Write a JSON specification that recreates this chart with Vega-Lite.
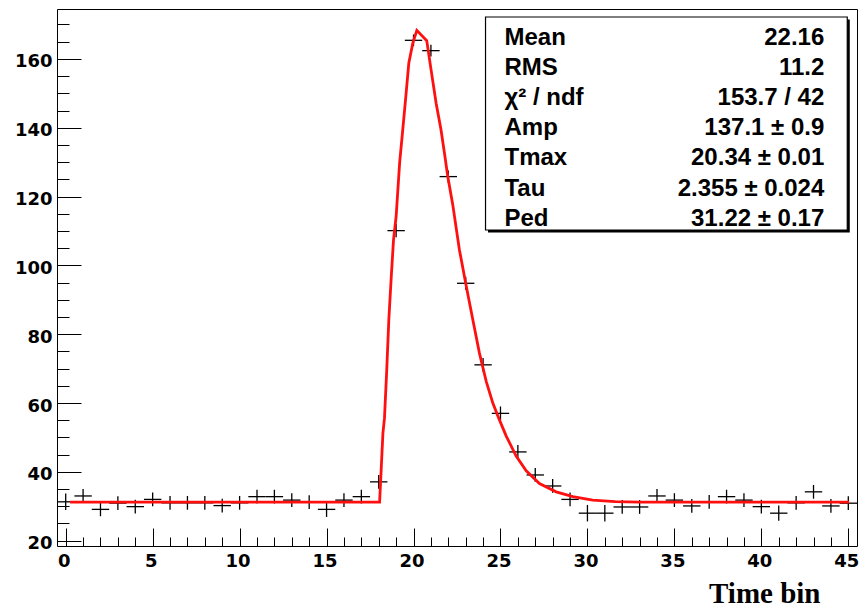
{
  "$schema": "https://vega.github.io/schema/vega-lite/v6.json",
  "width": 800,
  "height": 537,
  "autosize": {"type": "none"},
  "padding": {"left": 57, "top": 9, "right": 3, "bottom": 61},
  "background": "white",
  "config": {
    "view": {"stroke": "black", "strokeWidth": 1, "fill": "white"}
  },
  "layer": [
    {
      "layer": [
        {
          "data": {"name": "hist", "values": [
            {"t": 0, "v": 31.3, "e": 2.4},
            {"t": 1, "v": 33.0, "e": 2.0},
            {"t": 2, "v": 29.1, "e": 2.0},
            {"t": 3, "v": 30.9, "e": 2.0},
            {"t": 4, "v": 29.9, "e": 2.0},
            {"t": 5, "v": 32.0, "e": 2.0},
            {"t": 6, "v": 31.0, "e": 2.0},
            {"t": 7, "v": 31.0, "e": 2.0},
            {"t": 8, "v": 31.0, "e": 2.0},
            {"t": 9, "v": 30.2, "e": 2.0},
            {"t": 10, "v": 31.0, "e": 2.0},
            {"t": 11, "v": 32.8, "e": 2.0},
            {"t": 12, "v": 32.8, "e": 2.0},
            {"t": 13, "v": 31.8, "e": 2.0},
            {"t": 14, "v": 31.2, "e": 2.0},
            {"t": 15, "v": 29.1, "e": 2.2},
            {"t": 16, "v": 31.8, "e": 2.0},
            {"t": 17, "v": 32.8, "e": 2.0},
            {"t": 18, "v": 37.1, "e": 2.0},
            {"t": 19, "v": 110.1, "e": 1.9},
            {"t": 20, "v": 165.4, "e": 1.7},
            {"t": 21, "v": 162.4, "e": 1.7},
            {"t": 22, "v": 125.8, "e": 1.8},
            {"t": 23, "v": 94.8, "e": 1.9},
            {"t": 24, "v": 71.1, "e": 2.0},
            {"t": 25, "v": 57.0, "e": 2.0},
            {"t": 26, "v": 45.8, "e": 2.0},
            {"t": 27, "v": 39.1, "e": 2.0},
            {"t": 28, "v": 35.9, "e": 2.0},
            {"t": 29, "v": 32.0, "e": 2.0},
            {"t": 30, "v": 28.0, "e": 2.4},
            {"t": 31, "v": 28.0, "e": 2.4},
            {"t": 32, "v": 29.8, "e": 2.0},
            {"t": 33, "v": 29.8, "e": 2.0},
            {"t": 34, "v": 33.0, "e": 2.0},
            {"t": 35, "v": 31.8, "e": 2.0},
            {"t": 36, "v": 30.1, "e": 2.0},
            {"t": 37, "v": 31.3, "e": 2.0},
            {"t": 38, "v": 32.8, "e": 2.0},
            {"t": 39, "v": 31.8, "e": 2.0},
            {"t": 40, "v": 29.9, "e": 2.0},
            {"t": 41, "v": 28.0, "e": 2.2},
            {"t": 42, "v": 31.0, "e": 2.0},
            {"t": 43, "v": 34.2, "e": 2.0},
            {"t": 44, "v": 30.1, "e": 2.0},
            {"t": 45, "v": 30.9, "e": 2.0}
          ]},
          "layer": [
            {
              "mark": {"type": "tick", "orient": "horizontal", "color": "black", "size": 17.4, "thickness": 1.3, "opacity": 1},
              "encoding": {
                "x": {
                  "field": "t", "type": "quantitative",
                  "scale": {"domain": [-0.5, 45.5], "nice": false, "zero": false},
                  "axis": {
                    "orient": "bottom",
                    "values": [0, 5, 10, 15, 20, 25, 30, 35, 40, 45],
                    "labelOverlap": false,
                    "labelFlush": false,
                    "grid": false,
                    "domain": false,
                    "ticks": true,
                    "tickSize": -18,
                    "tickColor": "black",
                    "tickWidth": 1,
                    "labelFont": "DejaVu Sans",
                    "labelFontWeight": "bold",
                    "labelFontSize": 18,
                    "labelColor": "black",
                    "labelPadding": 24,
                    "labelOffset": -2,
                    "title": "Time bin",
                    "titleFont": "Liberation Serif",
                    "titleFontWeight": "bold",
                    "titleFontSize": 29,
                    "titleColor": "black",
                    "titleAlign": "right",
                    "titleAnchor": "start",
                    "titleBaseline": "alphabetic",
                    "titleX": 763,
                    "titleY": 56
                  }
                },
                "y": {
                  "field": "v", "type": "quantitative",
                  "scale": {"domain": [18.46, 174.5], "nice": false, "zero": false},
                  "axis": {
                    "orient": "left",
                    "values": [20, 40, 60, 80, 100, 120, 140, 160],
                    "labelOverlap": false,
                    "labelFlush": false,
                    "grid": false,
                    "domain": false,
                    "ticks": true,
                    "tickSize": -24,
                    "tickColor": "black",
                    "tickWidth": 1,
                    "labelFont": "DejaVu Sans",
                    "labelFontWeight": "bold",
                    "labelFontSize": 18,
                    "labelColor": "black",
                    "labelPadding": 29,
                    "labelOffset": 3,
                    "title": null
                  }
                }
              }
            },
            {
              "mark": {"type": "errorbar", "color": "black", "thickness": 1.3},
              "encoding": {
                "x": {"field": "t", "type": "quantitative", "scale": {"domain": [-0.5, 45.5], "nice": false, "zero": false}},
                "y": {"field": "v", "type": "quantitative", "scale": {"domain": [18.46, 174.5], "nice": false, "zero": false}},
                "yError": {"field": "e"}
              }
            }
          ]
        },
        {
          "data": {"name": "fit", "values": [
            {"t": 0.25, "f": 31.22},
            {"t": 18.05, "f": 31.22},
            {"t": 18.14, "f": 40.6},
            {"t": 18.24, "f": 51.2},
            {"t": 18.33, "f": 55.6},
            {"t": 18.46, "f": 69.6},
            {"t": 18.58, "f": 84.2},
            {"t": 18.72, "f": 96.7},
            {"t": 18.85, "f": 107.4},
            {"t": 19.0, "f": 114.2},
            {"t": 19.2, "f": 129.7},
            {"t": 19.38, "f": 139.4},
            {"t": 19.54, "f": 148.1},
            {"t": 19.73, "f": 158.8},
            {"t": 19.96, "f": 164.6},
            {"t": 20.19, "f": 168.3},
            {"t": 20.76, "f": 165.3},
            {"t": 21.01, "f": 156.8},
            {"t": 21.3, "f": 147.1},
            {"t": 21.58, "f": 139.4},
            {"t": 21.78, "f": 132.6},
            {"t": 21.97, "f": 125.8},
            {"t": 22.26, "f": 117.5},
            {"t": 22.64, "f": 104.5},
            {"t": 23.03, "f": 94.0},
            {"t": 23.41, "f": 84.2},
            {"t": 23.79, "f": 74.5},
            {"t": 24.18, "f": 66.3},
            {"t": 24.56, "f": 60.0},
            {"t": 24.94, "f": 55.1},
            {"t": 25.33, "f": 50.4},
            {"t": 25.9, "f": 44.6},
            {"t": 26.48, "f": 40.3},
            {"t": 27.24, "f": 36.6},
            {"t": 28.2, "f": 34.2},
            {"t": 29.16, "f": 32.8},
            {"t": 30.3, "f": 31.8},
            {"t": 31.6, "f": 31.35},
            {"t": 33.0, "f": 31.22},
            {"t": 45.05, "f": 31.22}
          ]},
          "mark": {"type": "line", "color": "#ff1010", "strokeWidth": 2.8, "interpolate": "linear"},
          "encoding": {
            "x": {
              "field": "t", "type": "quantitative",
              "scale": {"domain": [-0.5, 45.5], "nice": false, "zero": false},
              "axis": {
                "orient": "bottom",
                "values": [1,2,3,4,6,7,8,9,11,12,13,14,16,17,18,19,21,22,23,24,26,27,28,29,31,32,33,34,36,37,38,39,41,42,43,44],
                "labels": false,
                "grid": false,
                "domain": false,
                "ticks": true,
                "tickSize": -9,
                "tickColor": "black",
                "tickWidth": 1,
                "title": null
              }
            },
            "y": {
              "field": "f", "type": "quantitative",
              "scale": {"domain": [18.46, 174.5], "nice": false, "zero": false},
              "axis": {
                "orient": "left",
                "values": [25,30,35,45,50,55,65,70,75,85,90,95,105,110,115,125,130,135,145,150,155,165,170],
                "labels": false,
                "grid": false,
                "domain": false,
                "ticks": true,
                "tickSize": -12,
                "tickColor": "black",
                "tickWidth": 1,
                "title": null
              }
            }
          }
        }
      ],
      "resolve": {"axis": {"x": "independent", "y": "independent"}}
    },
    {
      "layer": [
        {
          "data": {"values": [{"box": "stats"}]},
          "mark": {"type": "rect", "fill": "black", "xOffset": 2.5, "x2Offset": 2.5, "yOffset": 2.5, "y2Offset": 2.5},
          "encoding": {
            "x": {"datum": 24.14, "type": "quantitative", "scale": {"domain": [-0.5, 45.5], "nice": false, "zero": false}, "axis": null},
            "x2": {"datum": 44.94},
            "y": {"datum": 0.07, "type": "quantitative", "scale": {"domain": [-0.196, 17.644], "nice": false, "zero": false, "reverse": true}, "axis": null},
            "y2": {"datum": 7.146}
          }
        },
        {
          "data": {"values": [{"box": "stats"}]},
          "mark": {"type": "rect", "fill": "white", "stroke": "black", "strokeWidth": 1.2},
          "encoding": {
            "x": {"datum": 24.14, "type": "quantitative", "scale": {"domain": [-0.5, 45.5], "nice": false, "zero": false}, "axis": null},
            "x2": {"datum": 44.94},
            "y": {"datum": 0.07, "type": "quantitative", "axis": null},
            "y2": {"datum": 7.146}
          }
        },
        {
          "data": {"name": "stats", "values": [
            {"row": 1, "name": "Mean", "val": "22.16"},
            {"row": 2, "name": "RMS", "val": "11.2"},
            {"row": 3, "name": "χ² / ndf", "val": "153.7 / 42"},
            {"row": 4, "name": "Amp", "val": "137.1 ± 0.9"},
            {"row": 5, "name": "Tmax", "val": "20.34 ± 0.01"},
            {"row": 6, "name": "Tau", "val": "2.355 ± 0.024"},
            {"row": 7, "name": "Ped", "val": "31.22 ± 0.17"}
          ]},
          "layer": [
            {
              "mark": {"type": "text", "align": "left", "baseline": "alphabetic", "font": "Liberation Sans", "fontWeight": "bold", "fontSize": 24, "color": "black"},
              "encoding": {
                "x": {"datum": 25.23, "type": "quantitative", "scale": {"domain": [-0.5, 45.5], "nice": false, "zero": false}, "axis": null},
                "y": {"field": "row", "type": "quantitative", "axis": null},
                "text": {"field": "name"}
              }
            },
            {
              "mark": {"type": "text", "align": "right", "baseline": "alphabetic", "font": "Liberation Sans", "fontWeight": "bold", "fontSize": 24, "color": "black"},
              "encoding": {
                "x": {"datum": 43.62, "type": "quantitative", "scale": {"domain": [-0.5, 45.5], "nice": false, "zero": false}, "axis": null},
                "y": {"field": "row", "type": "quantitative", "axis": null},
                "text": {"field": "val"}
              }
            }
          ]
        }
      ]
    }
  ],
  "resolve": {"scale": {"y": "independent"}}
}
